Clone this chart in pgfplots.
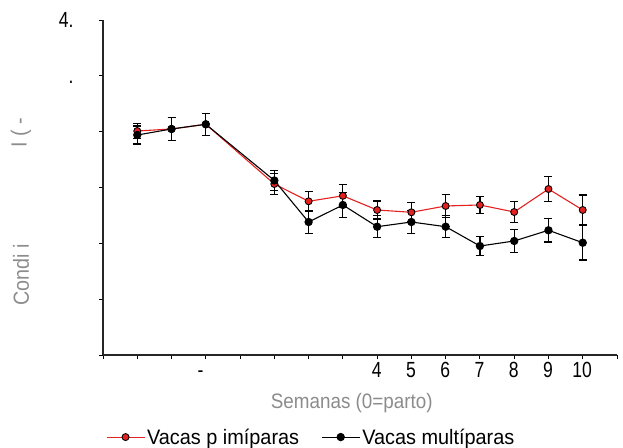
\documentclass[border=0pt]{standalone}
\usepackage{fontspec}
\setmainfont{Liberation Sans}[FakeStretch=0.95]
\newfontfamily\ticfont{Liberation Sans}[FakeStretch=0.8]
\newfontfamily\labfont{Liberation Sans}[FakeStretch=0.9]
\usepackage{pgfplots}
\usepackage{pgfplotstable}
\pgfplotsset{compat=1.18}
\definecolor{lblgray}{RGB}{140,140,140}
\definecolor{myred}{RGB}{228,32,32}

\pgfplotstableread{
x y e
-3 4.012 0.14
-2 4.048 0.21
-1 4.132 0.20
1 3.063 0.185
2 2.753 0.18
3 2.851 0.20
4 2.597 0.16
5 2.556 0.17
6 2.669 0.20
7 2.687 0.15
8 2.561 0.19
9 2.973 0.22
10 2.597 0.27
}\prim

\pgfplotstableread{
x y e
-3 3.940 0.16
-2 4.048 0.21
-1 4.132 0.20
1 3.126 0.185
2 2.382 0.20
3 2.687 0.22
4 2.298 0.20
5 2.382 0.20
6 2.298 0.20
7 1.952 0.165
8 2.042 0.20
9 2.234 0.21
10 2.011 0.31
}\multi

\begin{document}
\begin{tikzpicture}
\begin{axis}[
  scale only axis, width=514bp, height=335bp,
  xmin=-4, xmax=11, ymin=0, ymax=6,
  axis x line*=bottom, axis y line*=left,
  axis line style={black!85, line width=1.2pt, -},
  xtick={-4,...,11},
  xticklabels={,,,-\phantom{1},,,,,4,5,6,7,8,9,10,},
  ytick={0,...,6},
  yticklabels={,,,,,\phantom{4}.,4.},
  tick align=outside, major tick length=4bp,
  tick style={black, line width=0.9pt},
  ticklabel style={font=\ticfont\fontsize{22}{24}\selectfont},
  yticklabel style={xshift=-22bp},
  xticklabel style={xshift=-0.5bp},
  xlabel={Semanas (0=parto)},
  xlabel style={at={(axis description cs:0.484,-0.143)}, anchor=center, font=\labfont\fontsize{21}{24}\selectfont, text=lblgray},
  ylabel={Condi i},
  ylabel style={at={(axis description cs:-0.1595,0.239)}, anchor=center, rotate=0, font=\labfont\fontsize{22}{24}\selectfont, text=lblgray},
  legend columns=2,
  legend style={at={(axis description cs:0.405,-0.245)}, anchor=center, draw=none, fill=none,
    font=\fontsize{21}{24}\selectfont,
    /tikz/every even column/.append style={column sep=20bp}},
  legend image code/.code={\draw[mark repeat=2,mark phase=2,#1] plot coordinates {(0bp,0bp) (19bp,0bp) (38bp,0bp)};},
  clip=false,
]
\addplot+[myred, line width=1.1pt, mark=*, mark size=3.5bp,
  mark options={fill=myred, draw=black, line width=0.9pt},
  error bars/.cd, y dir=both, y explicit,
  error bar style={black, line width=1.2pt},
  error mark options={rotate=90, mark size=4bp, black, line width=1.2pt}]
  table[x=x, y=y, y error=e] {\prim};
\addlegendentry{Vacas p imíparas}
\addplot+[black, line width=1.1pt, mark=*, mark size=3.6bp,
  mark options={fill=black, draw=black},
  error bars/.cd, y dir=both, y explicit,
  error bar style={black, line width=1.2pt},
  error mark options={rotate=90, mark size=4bp, black, line width=1.2pt}]
  table[x=x, y=y, y error=e] {\multi};
\addlegendentry{Vacas multíparas}
\node[rotate=90, text=lblgray, font=\labfont\fontsize{22}{24}\selectfont] at (axis description cs:-0.1595,0.663) {I ( -};
\end{axis}
\pgfresetboundingbox
\path (current axis.south west) ++(-103bp,-93bp) rectangle ++(623bp,448bp);
\end{tikzpicture}
\end{document}
